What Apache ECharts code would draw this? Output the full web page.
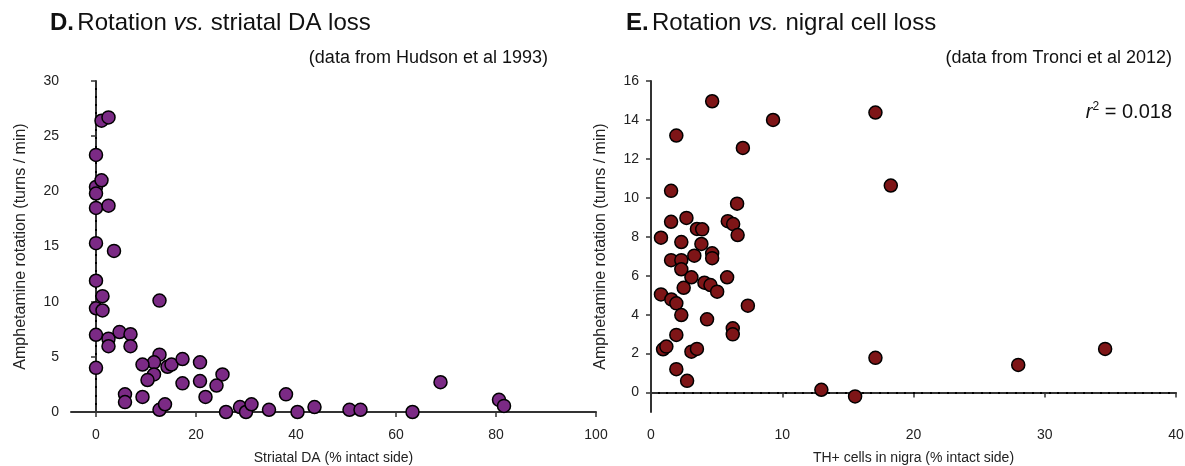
<!DOCTYPE html>
<html>
<head>
<meta charset="utf-8">
<script src="https://cdn.jsdelivr.net/npm/echarts@6/dist/echarts.min.js"></script>
<style>html,body{margin:0;padding:0;background:#fff}#c{width:1185px;height:466px}</style>
</head>
<body>
<div id="c"></div>
<script>
// Panel D: striatal DA (% intact side) vs amphetamine rotation (turns/min)
var dX = [1.1,2.5,0,0,1.1,0,0,2.5,0,3.6,0,1.3,0,1.3,12.7,0,2.5,2.5,4.7,6.9,6.9,0,12.7,11.6,9.3,14.3,15.1,17.3,20.8,11.6,10.3,17.3,20.8,25.3,24.1,21.9,5.8,5.8,9.3,12.7,13.8,26.0,28.8,30.0,31.1,34.6,38.0,40.3,43.7,50.7,52.9,63.3,68.9,80.6,81.6];
var dY = [26.4,26.7,23.3,20.4,21.0,19.8,18.5,18.7,15.3,14.6,11.9,10.5,9.4,9.2,10.1,7.0,6.65,5.96,7.25,7.05,5.96,4.0,5.2,4.5,4.3,4.1,4.3,4.8,4.5,3.4,2.9,2.6,2.8,3.4,2.4,1.36,1.6,0.9,1.36,0.2,0.7,0.0,0.45,0.0,0.7,0.2,1.6,0.0,0.45,0.2,0.2,0.0,2.7,1.1,0.55];
// Panel E: TH+ cells in nigra (% intact side) vs amphetamine rotation
var eX = [4.66,9.3,1.93,7.0,1.53,6.56,1.53,2.7,3.5,3.9,5.85,6.26,6.6,0.76,2.31,3.84,4.66,4.66,3.3,1.53,2.31,2.31,3.08,5.8,4.07,4.53,5.04,2.49,0.76,1.55,1.93,7.38,2.31,4.27,6.23,6.23,1.93,0.92,1.17,3.08,3.5,1.93,2.75,17.1,18.27,17.1,12.98,15.55,27.98,34.6];
var eY = [14.96,14.0,13.2,12.56,10.36,9.7,8.77,8.97,8.4,8.38,8.8,8.65,8.09,7.95,7.73,7.63,7.15,6.9,7.03,6.8,6.8,6.33,5.92,5.92,5.64,5.52,5.18,5.38,5.04,4.78,4.58,4.46,3.98,3.76,3.3,2.99,2.96,2.22,2.36,2.1,2.24,1.2,0.6,14.38,10.63,1.78,0.14,-0.2,1.42,2.24];
var dXTicks = [0,20,40,60,80,100];
var eYTicks = [0,2,4,6,8,10,12,14,16];
// reference (zero) lines: [x0, y0, x1, y1]
var dZeroLine = [0, 0, 0, 30];
var eZeroLine = [0, 0, 40, 0];

function pairs(xs, ys){ return xs.map(function(x,i){ return [x, ys[i]]; }); }

// draws a dotted segment between two data points, through the axes' scales
function dottedItem(spacing, startOff){
  return function(params, api){
    var p0 = api.coord([api.value(0), api.value(1)]);
    var p1 = api.coord([api.value(2), api.value(3)]);
    var dx = p1[0]-p0[0], dy = p1[1]-p0[1];
    var len = Math.sqrt(dx*dx+dy*dy);
    var ux = dx/len, uy = dy/len;
    var kids = [];
    for (var s = startOff; s <= len - 2; s += spacing){
      kids.push({type:'rect', shape:{x:Math.round(p0[0]+ux*s-1), y:Math.round(p0[1]+uy*s-1), width:2, height:2},
                 style:{fill:'#000'}});
    }
    return {type:'group', children:kids};
  };
}

var FONT = 'Liberation Sans, Arial, sans-serif';
var axisLine = {show:true, lineStyle:{color:'#333', width:2}};
var axisTick = {show:true, length:5, lineStyle:{color:'#333', width:1.5}};
var lbl = {color:'#222', fontSize:14, fontFamily:FONT};
var titleRich = {b:{fontSize:24, fontWeight:'bold', fill:'#111', fontFamily:FONT},
                 n:{fontSize:24, fill:'#111', fontFamily:FONT},
                 i:{fontSize:24, fontStyle:'italic', fill:'#111', fontFamily:FONT}};

var chart = echarts.init(document.getElementById('c'), null, {renderer:'canvas'});
chart.setOption({
  animation:false,
  backgroundColor:'#fff',
  textStyle:{fontFamily:FONT},
  grid:[
    {left:71, top:81, width:525, height:331, containLabel:false, outerBoundsMode:'none'},
    {left:651, top:81, width:525, height:331, containLabel:false, outerBoundsMode:'none'}
  ],
  xAxis:[
    {gridIndex:0, type:'value', min:-5, max:100, splitLine:{show:false},
     axisLine:axisLine,
     axisTick:Object.assign({customValues:dXTicks}, axisTick),
     axisLabel:Object.assign({customValues:dXTicks, margin:16}, lbl),
     name:'Striatal DA (% intact side)', nameLocation:'middle', nameGap:39,
     nameTextStyle:{color:'#222', fontSize:14, fontFamily:FONT}},
    {gridIndex:1, type:'value', min:0, max:40, interval:10, splitLine:{show:false},
     axisLine:axisLine, axisTick:axisTick,
     axisLabel:Object.assign({margin:16}, lbl),
     name:'TH+ cells in nigra (% intact side)', nameLocation:'middle', nameGap:39,
     nameTextStyle:{color:'#222', fontSize:14, fontFamily:FONT}}
  ],
  yAxis:[
    {gridIndex:0, type:'value', min:0, max:30, interval:5, splitLine:{show:false},
     axisLine:axisLine, axisTick:axisTick,
     axisLabel:Object.assign({margin:12}, lbl),
     name:'Amphetamine rotation (turns / min)', nameLocation:'middle', nameGap:42,
     nameTextStyle:{color:'#222', fontSize:16, fontFamily:FONT}},
    {gridIndex:1, type:'value', min:-1, max:16, splitLine:{show:false},
     axisLine:axisLine,
     axisTick:Object.assign({customValues:eYTicks}, axisTick),
     axisLabel:Object.assign({customValues:eYTicks, margin:12}, lbl),
     name:'Amphetamine rotation (turns / min)', nameLocation:'middle', nameGap:42,
     nameTextStyle:{color:'#222', fontSize:16, fontFamily:FONT}}
  ],
  series:[
    {type:'custom', xAxisIndex:0, yAxisIndex:0, z:1, silent:true, clip:false,
     renderItem:dottedItem(8.3, 8), data:[dZeroLine]},
    {type:'custom', xAxisIndex:1, yAxisIndex:1, z:1, silent:true, clip:false,
     renderItem:dottedItem(8.5, 7.5), data:[eZeroLine]},
    {type:'scatter', xAxisIndex:0, yAxisIndex:0, z:3, symbolSize:13,
     itemStyle:{color:'#7B2A85', borderColor:'#000', borderWidth:1.5, opacity:1},
     data:pairs(dX,dY)},
    {type:'scatter', xAxisIndex:1, yAxisIndex:1, z:3, symbolSize:13,
     itemStyle:{color:'#7E1517', borderColor:'#000', borderWidth:1.5, opacity:1},
     data:pairs(eX,eY)}
  ],
  graphic:[
    {type:'text', left:50, top:11, style:{
      text:'{b|D.} {n|Rotation }{i|vs.}{n| striatal DA loss}', rich:titleRich}},
    {type:'text', right:637, top:49, style:{text:'(data from Hudson et al 1993)', fontSize:18, fill:'#111', fontFamily:FONT}},
    {type:'text', left:626, top:11, style:{
      text:'{b|E.} {n|Rotation }{i|vs.}{n| nigral cell loss}', rich:titleRich}},
    {type:'text', right:13, top:49, style:{text:'(data from Tronci et al 2012)', fontSize:18, fill:'#111', fontFamily:FONT}},
    {type:'text', right:13, top:101, style:{
      text:'{r|r}{s|2}{n| = 0.018}',
      rich:{r:{fontSize:20, fontStyle:'italic', fill:'#111', fontFamily:FONT},
            s:{fontSize:12, fill:'#111', fontFamily:FONT, verticalAlign:'top', padding:[0,0,10,0]},
            n:{fontSize:20, fill:'#111', fontFamily:FONT}}}}
  ]
});
</script>
</body>
</html>
